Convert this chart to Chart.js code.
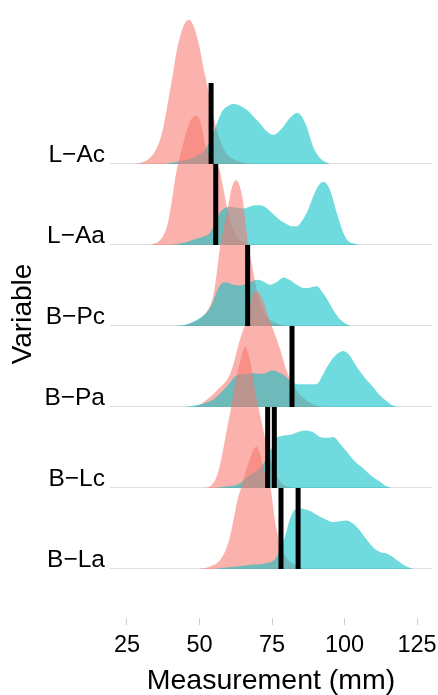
<!DOCTYPE html>
<html><head><meta charset="utf-8">
<script src="https://cdn.jsdelivr.net/npm/chart.js@4"></script>
<style>html,body{margin:0;padding:0;background:#fff}</style>
</head><body>
<canvas id="c" width="438" height="695"></canvas>
<script>
// Categories (bottom to top on the y axis)
const categories = ['B−La','B−Lc','B−Pa','B−Pc','L−Aa','L−Ac'];
const xTicks = [25, 50, 75, 100, 125];
const xTitle = 'Measurement (mm)';
const yTitle = 'Variable';

// Density curves: [measurement, relative height]
const lAcPink = [[28,0],[31,0.03],[33,0.08],[35,0.18],[36.5,0.31],[37.6,0.47],[38.7,0.68],[39.8,0.9],[41,1.15],[42,1.37],[43.5,1.6],[45,1.74],[46.5,1.78],[48,1.7],[49.2,1.56],[50.2,1.41],[51.3,1.2],[52.5,1.0],[54,0.72],[55.5,0.48],[57,0.3],[58.5,0.18],[60,0.1],[63,0.04],[67,0]];
const lAcTeal = [[38,0],[44,0.04],[48,0.08],[50,0.12],[52,0.18],[53.5,0.27],[55,0.4],[56.5,0.55],[58,0.66],[60,0.72],[61.7,0.74],[64,0.72],[66.3,0.67],[68.5,0.59],[70.9,0.5],[73,0.41],[75.4,0.36],[77,0.39],[78.9,0.46],[81,0.56],[83.5,0.63],[85,0.6],[87,0.46],[88.2,0.32],[89.2,0.21],[91,0.1],[92.7,0.04],[95,0]];
const lAaPink = [[33,0],[36.4,0.06],[38,0.15],[39.2,0.29],[40.2,0.48],[41.1,0.7],[42.1,0.92],[43.3,1.1],[44.5,1.27],[45.6,1.41],[47.3,1.56],[49,1.6],[50,1.55],[50.8,1.45],[51.9,1.25],[53,1.12],[55,1.03],[57,0.92],[58,0.74],[59.5,0.46],[61,0.25],[63,0.1],[66,0.02],[68,0]];
const lAaTeal = [[40,0],[45,0.03],[49,0.08],[51,0.1],[53.6,0.15],[55,0.24],[56,0.32],[57.1,0.4],[59,0.46],[61,0.47],[63,0.46],[65,0.45],[67,0.47],[69.5,0.49],[72,0.48],[74,0.43],[76,0.36],[78,0.3],[80,0.26],[82,0.23],[83.5,0.23],[85,0.28],[87,0.4],[89,0.58],[90.5,0.7],[92.7,0.78],[95,0.68],[97.3,0.4],[99.6,0.15],[101,0.06],[103,0.02],[105,0]];
const bPcPink = [[44,0],[48,0.05],[50.5,0.1],[52.5,0.18],[54,0.28],[55,0.42],[55.9,0.64],[57.1,0.98],[58.3,1.2],[59.4,1.38],[61.1,1.7],[62.6,1.8],[64.5,1.64],[65.5,1.4],[66.3,1.15],[67,0.95],[68,0.77],[69.5,0.48],[71,0.27],[73,0.12],[76,0.04],[80,0]];
const bPcTeal = [[42,0],[45.6,0.02],[50.2,0.1],[52,0.15],[53.6,0.22],[55,0.33],[55.9,0.42],[57.5,0.52],[59,0.54],[61.5,0.51],[64,0.5],[67,0.53],[70,0.57],[72,0.55],[74.3,0.51],[76.5,0.54],[79,0.6],[81,0.57],[83.5,0.51],[86,0.47],[87.5,0.47],[90.4,0.49],[92.7,0.4],[94.5,0.3],[96.1,0.2],[98,0.1],[99.6,0.05],[102,0]];
const bPaPink = [[48,0],[50.2,0.03],[52.5,0.09],[54.8,0.16],[57,0.24],[59.4,0.33],[60.7,0.42],[61.7,0.53],[62.9,0.69],[64,0.84],[65.7,1.02],[67.4,1.27],[68.6,1.4],[69.7,1.43],[70.8,1.4],[72,1.31],[74.3,1.06],[76.5,0.85],[78,0.69],[80,0.45],[82,0.3],[84,0.18],[87,0.08],[90,0.02],[93,0]];
const bPaTeal = [[45,0],[50,0.03],[55,0.1],[58,0.2],[60.5,0.3],[62,0.37],[64,0.4],[66.5,0.41],[68.6,0.42],[70.5,0.41],[72,0.41],[74,0.44],[75.4,0.45],[77,0.43],[78.9,0.4],[80.5,0.35],[82.3,0.3],[84.5,0.28],[87,0.28],[90.4,0.28],[92,0.36],[93.9,0.49],[95.5,0.58],[97.3,0.65],[99.6,0.69],[101.9,0.63],[103.5,0.54],[105.3,0.44],[107.5,0.34],[110,0.24],[112,0.15],[114.6,0.07],[116,0.03],[118,0]];
const bLcPink = [[52,0],[53.6,0.02],[55.9,0.14],[57.7,0.39],[59.4,0.72],[60.3,0.88],[61.1,1.03],[62.2,1.27],[64,1.56],[65.7,1.74],[67.4,1.58],[68.3,1.4],[69.1,1.21],[70.3,1.01],[72,0.72],[73.5,0.5],[75,0.3],[77,0.12],[79,0.04],[82,0]];
const bLcTeal = [[55,0],[60,0.02],[64,0.06],[67,0.15],[70,0.22],[72,0.3],[73.5,0.4],[75,0.5],[76.6,0.62],[78,0.64],[80,0.65],[82.5,0.67],[84.7,0.7],[87,0.71],[89,0.69],[91.6,0.63],[94,0.62],[96.1,0.63],[98.4,0.55],[100.5,0.46],[103,0.35],[105.5,0.27],[107.7,0.2],[110,0.13],[112.2,0.08],[114,0.03],[116,0]];
const bLaPink = [[50,0],[53.6,0.03],[57.1,0.11],[59.9,0.32],[61.7,0.6],[63,0.84],[64.5,1.02],[66.3,1.25],[67.4,1.36],[68.5,1.47],[69.7,1.51],[70.9,1.42],[72,1.25],[73.5,1.09],[74.5,1.0],[75.2,0.82],[76,0.6],[77,0.42],[78.5,0.25],[80,0.14],[83,0.05],[86,0]];
const bLaTeal = [[55,0],[60,0.02],[67,0.05],[73,0.07],[76,0.12],[78,0.25],[79.5,0.4],[81,0.6],[82.5,0.72],[84.5,0.75],[86,0.74],[88,0.72],[90.4,0.67],[93,0.62],[96,0.58],[98.5,0.59],[100.8,0.6],[102.5,0.57],[104.2,0.52],[106,0.44],[107.7,0.36],[109.5,0.28],[111.1,0.23],[113,0.2],[114.6,0.19],[116.5,0.15],[118,0.11],[120,0.06],[121.4,0.03],[123.6,0]];

// Vertical marker lines per variable
const lAcLines = [54.0];
const lAaLines = [55.6];
const bPcLines = [66.6];
const bPaLines = [81.9];
const bLcLines = [73.5, 75.8];
const bLaLines = [78.1, 84.0];

const pinkFill = 'rgba(248,118,109,0.56)';
const tealFill = 'rgba(0,191,196,0.56)';
const FONT = 'Liberation Sans, Arial, sans-serif';

// back (top) to front (bottom)
const ridges = [
  ['L−Ac', lAcPink, lAcTeal, lAcLines],
  ['L−Aa', lAaPink, lAaTeal, lAaLines],
  ['B−Pc', bPcPink, bPcTeal, bPcLines],
  ['B−Pa', bPaPink, bPaTeal, bPaLines],
  ['B−Lc', bLcPink, bLcTeal, bLcLines],
  ['B−La', bLaPink, bLaTeal, bLaLines]
];

const datasets = [];
let ord = 100;
ridges.forEach(([cat, pink, teal]) => {
  const base = categories.indexOf(cat);
  [[pink, pinkFill], [teal, tealFill]].forEach(([curve, col]) => {
    datasets.push({
      data: curve.map(([x, h]) => ({x: x, y: base + h})),
      showLine: true, fill: {value: base},
      backgroundColor: col, borderColor: 'rgba(0,0,0,0)', borderWidth: 0,
      pointRadius: 0, cubicInterpolationMode: 'monotone', order: ord--
    });
  });
});
ridges.forEach(([cat, , , lines]) => {
  const base = categories.indexOf(cat);
  lines.forEach(v => {
    datasets.push({
      data: [{x: v, y: base}, {x: v, y: base + 1}],
      showLine: true, fill: false, borderColor: '#000', borderWidth: 5,
      pointRadius: 0, tension: 0, order: -1
    });
  });
});

new Chart(document.getElementById('c'), {
  type: 'scatter',
  data: {datasets},
  options: {
    responsive: false, animation: false, devicePixelRatio: 1,
    layout: {padding: {top: 10, right: 6, left: 0, bottom: 0}},
    plugins: {legend: {display: false}, tooltip: {enabled: false}},
    scales: {
      x: {
        type: 'linear', min: 19.14, max: 130.17,
        afterBuildTicks: s => { s.ticks = xTicks.map(v => ({value: v})); },
        afterFit: s => { s.height = 77; s.paddingLeft = 0; s.paddingRight = 0; },
        grid: {drawOnChartArea: false, drawTicks: true, tickLength: 7, tickColor: '#d0d0d0', tickWidth: 1},
        border: {display: false},
        ticks: {font: {family: FONT, size: 23.5}, color: '#000', padding: 6, maxRotation: 0, autoSkip: false},
        title: {display: true, text: xTitle, font: {family: FONT, size: 28.5, lineHeight: 1.0}, color: '#000', padding: {top: 0, bottom: 0}}
      },
      y: {
        type: 'linear', min: -0.605, max: 6.901,
        afterBuildTicks: s => { s.ticks = categories.map((c, i) => ({value: i})); },
        afterFit: s => { s.width = 110; s.paddingTop = 0; s.paddingBottom = 0; },
        grid: {drawTicks: false, color: '#dedede', lineWidth: 1},
        border: {display: false},
        ticks: {callback: v => categories[v] ?? '', font: {family: FONT, size: 24.5}, color: '#000', padding: 5, labelOffset: -9, autoSkip: false},
        title: {display: true, text: yTitle, font: {family: FONT, size: 28}, color: '#000', padding: {top: 6, bottom: 0}}
      }
    }
  }
});
</script>
</body></html>
